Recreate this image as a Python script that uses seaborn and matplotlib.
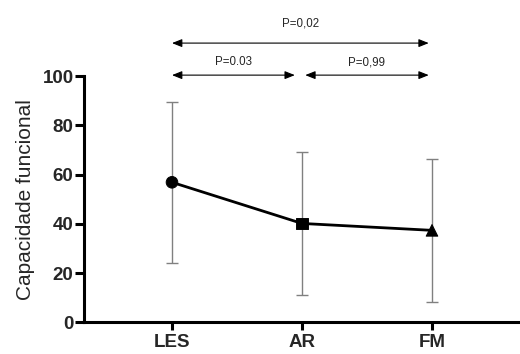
import matplotlib
matplotlib.use("Agg")
import matplotlib.pyplot as plt
import seaborn as sns
import pandas as pd

groups = ["LES", "AR", "FM"]
means = [56.9, 40.2, 37.4]
sds = [32.6, 29.2, 28.9]
markers = ["o", "s", "^"]
yticks = [0, 20, 40, 60, 80, 100]
comparisons = [("LES", "AR", "P=0.03"), ("AR", "FM", "P=0,99"), ("LES", "FM", "P=0,02")]

sns.set_theme(style="ticks")
plt.rcParams["font.family"] = ["Liberation Sans", "DejaVu Sans"]

df = pd.DataFrame({"grupo": groups, "valor": means, "sd": sds})

fig = plt.figure(figsize=(5.2, 3.54), dpi=100)
ax = fig.add_axes([0.1615, 0.089, 0.8385, 0.696])

ax.errorbar(range(len(groups)), df["valor"], yerr=df["sd"], fmt="none",
            ecolor="#808080", elinewidth=1.0, capsize=4.5, capthick=1.0, zorder=1)
sns.lineplot(data=df, x="grupo", y="valor", color="black", linewidth=2.0,
             sort=False, ax=ax, zorder=2)
sns.scatterplot(data=df, x="grupo", y="valor", style="grupo",
                markers=dict(zip(groups, markers)), color="black", s=70,
                edgecolor="black", legend=False, ax=ax, zorder=3)

ax.set_xlim(-0.677, 2.677)
ax.set_ylim(0, 100)
ax.set_yticks(yticks)
ax.set_xlabel("")
ax.set_ylabel("Capacidade funcional", fontsize=15, labelpad=5)
for s in ["top", "right"]:
    ax.spines[s].set_visible(False)
for s in ["left", "bottom"]:
    ax.spines[s].set_linewidth(2.2)
    ax.spines[s].set_color("black")
ax.tick_params(axis="y", width=2.2, length=6.5, color="black", labelsize=13.5, pad=1)
ax.tick_params(axis="x", width=2.2, length=5.5, color="black", labelsize=13.5, pad=3)
for lab in ax.get_xticklabels() + ax.get_yticklabels():
    lab.set_fontweight("bold")

pos = {g: i for i, g in enumerate(groups)}
levels = [100.4, 100.4, 113.4]
text_levels = [105.6, 105.6, 121.4]
for (a, b, txt), yl, yt in zip(comparisons, levels, text_levels):
    xa, xb = pos[a], pos[b]
    if b == "AR":
        xb -= 0.055
    if a == "AR":
        xa += 0.025
    if b == "FM":
        xb -= 0.025
    ax.annotate("", xy=(xa, yl), xytext=(xb, yl), xycoords="data",
                arrowprops=dict(arrowstyle="<|-|>,head_length=0.5,head_width=0.2",
                                color="black", lw=0.8, shrinkA=0, shrinkB=0),
                annotation_clip=False)
    ax.text((xa + xb) / 2, yt, txt, ha="center", va="center", fontsize=8.3,
            clip_on=False)

fig.savefig("out.png", dpi=100)
